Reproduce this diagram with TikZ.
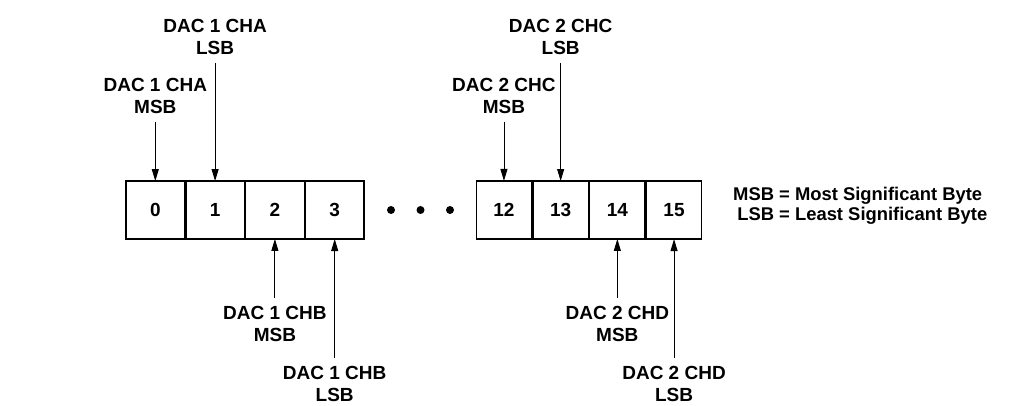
\documentclass[tikz,border=0pt]{standalone}
\usepackage{fontspec}
\setmainfont{Liberation Sans}
\usetikzlibrary{matrix}
\usetikzlibrary{positioning}
\usetikzlibrary{arrows.meta}

\begin{document}
\begin{tikzpicture}[x=1pt,y=1pt,
  every node/.style={font=\bfseries\fontsize{19}{22.3}\selectfont},
  cell/.style={draw,line width=1.3pt,minimum height=58pt,outer sep=0pt,inner sep=0pt},
  lbl/.style={align=center,inner xsep=0pt,inner ysep=8pt},
  ptr/.style={-{Triangle[length=12pt,width=7pt]},line width=0.9pt}]
\useasboundingbox (0,0) rectangle (1023,406);
% bytes 0..3
\matrix (lo) at (245,196) [matrix of nodes,inner sep=0pt,column sep=0pt,nodes={cell,minimum width=58.5pt}]
{
0 & 1 & 2 & 3 \\
};
% bytes 12..15
\matrix (hi) at (589,196) [matrix of nodes,inner sep=0pt,column sep=0pt,nodes={cell,minimum width=55.4pt}]
{
12 & 13 & 14 & 15 \\
};
\foreach \x in {391,420.5,450}
  \fill (\x,196) circle (4pt);
% channel labels
\node[lbl,above=59pt of lo-1-1] (chamsb) {DAC 1 CHA\\MSB};
\node[lbl,above=118pt of lo-1-2] (chalsb) {DAC 1 CHA\\LSB};
\node[lbl,below=59pt of lo-1-3] (chbmsb) {DAC 1 CHB\\MSB};
\node[lbl,below=119pt of lo-1-4] (chblsb) {DAC 1 CHB\\LSB};
\node[lbl,above=59pt of hi-1-1] (chcmsb) {DAC 2 CHC\\MSB};
\node[lbl,above=118pt of hi-1-2] (chclsb) {DAC 2 CHC\\LSB};
\node[lbl,below=59pt of hi-1-3] (chdmsb) {DAC 2 CHD\\MSB};
\node[lbl,below=119pt of hi-1-4] (chdlsb) {DAC 2 CHD\\LSB};
\draw[ptr] (chamsb) -- (lo-1-1);
\draw[ptr] (chalsb) -- (lo-1-2);
\draw[ptr] (chbmsb) -- (lo-1-3);
\draw[ptr] (chblsb) -- (lo-1-4);
\draw[ptr] (chcmsb) -- (hi-1-1);
\draw[ptr] (chclsb) -- (hi-1-2);
\draw[ptr] (chdmsb) -- (hi-1-3);
\draw[ptr] (chdlsb) -- (hi-1-4);
% legend
\node[anchor=west,inner sep=0pt] (legend) at (733,199)
  {\fontsize{18.4}{20}\selectfont\begin{tabular}{@{}r@{ = }l@{}}
   MSB & Most Significant Byte\\
   LSB & Least Significant Byte
   \end{tabular}};
\end{tikzpicture}
\end{document}
